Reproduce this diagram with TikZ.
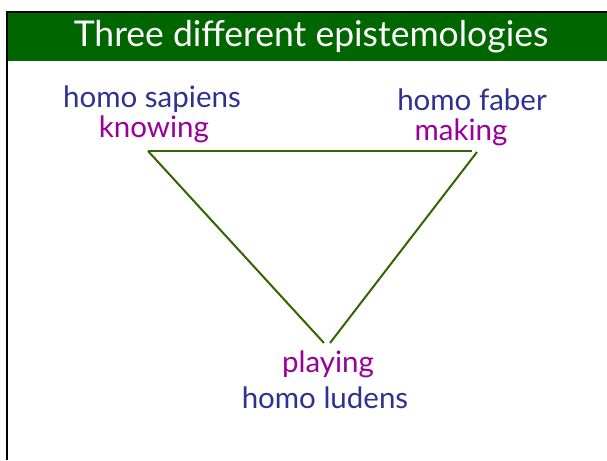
\documentclass[tikz,border=0pt]{standalone}
\usepackage{fontspec}
\setmainfont{Lato}
\usetikzlibrary{positioning}
\definecolor{headgreen}{RGB}{0,102,0}
\definecolor{linegreen}{RGB}{51,102,0}
\definecolor{homoblue}{RGB}{46,49,146}
\definecolor{verbpurple}{RGB}{153,0,153}

\begin{document}
\begin{tikzpicture}[x=1pt, y=-1pt,
    species/.style={text=homoblue, font=\fontsize{29.5}{30}\selectfont, inner sep=0pt, anchor=base},
    activity/.style={text=verbpurple, font=\fontsize{29.5}{30}\selectfont, inner sep=0pt, anchor=base},
    edge/.style={linegreen, line width=2pt}]
  \useasboundingbox (0,0) rectangle (607,460);
  % frame and title bar
  \fill[headgreen] (7,12) rectangle (607,61);
  \draw[line width=2pt] (7,460) -- (7,12) -- (607,12);
  \node[text=white, font=\fontsize{35.5}{36}\selectfont, inner sep=0pt, anchor=base] (title) at (311,47) {Three different epistemologies};
  % the three corners
  \node[species] (sapiens) at (152,107) {homo sapiens};
  \node[activity] (knowing) at (154,137) {knowing};
  \node[species] (faber) at (472,110) {homo faber};
  \node[activity] (making) at (461,140) {making};
  \node[activity] (playing) at (328,372) {playing};
  \node[species] (ludens) at (325,408) {homo ludens};
  % triangle
  \coordinate (k) at (148,151);
  \coordinate (m1) at (472,151);
  \coordinate (m2) at (477,152);
  \coordinate (p1) at (324,343);
  \coordinate (p2) at (330,343);
  \draw[edge] (k) -- (m1);
  \draw[edge] (m2) -- (p2);
  \draw[edge] (k) -- (p1);
\end{tikzpicture}
\end{document}
